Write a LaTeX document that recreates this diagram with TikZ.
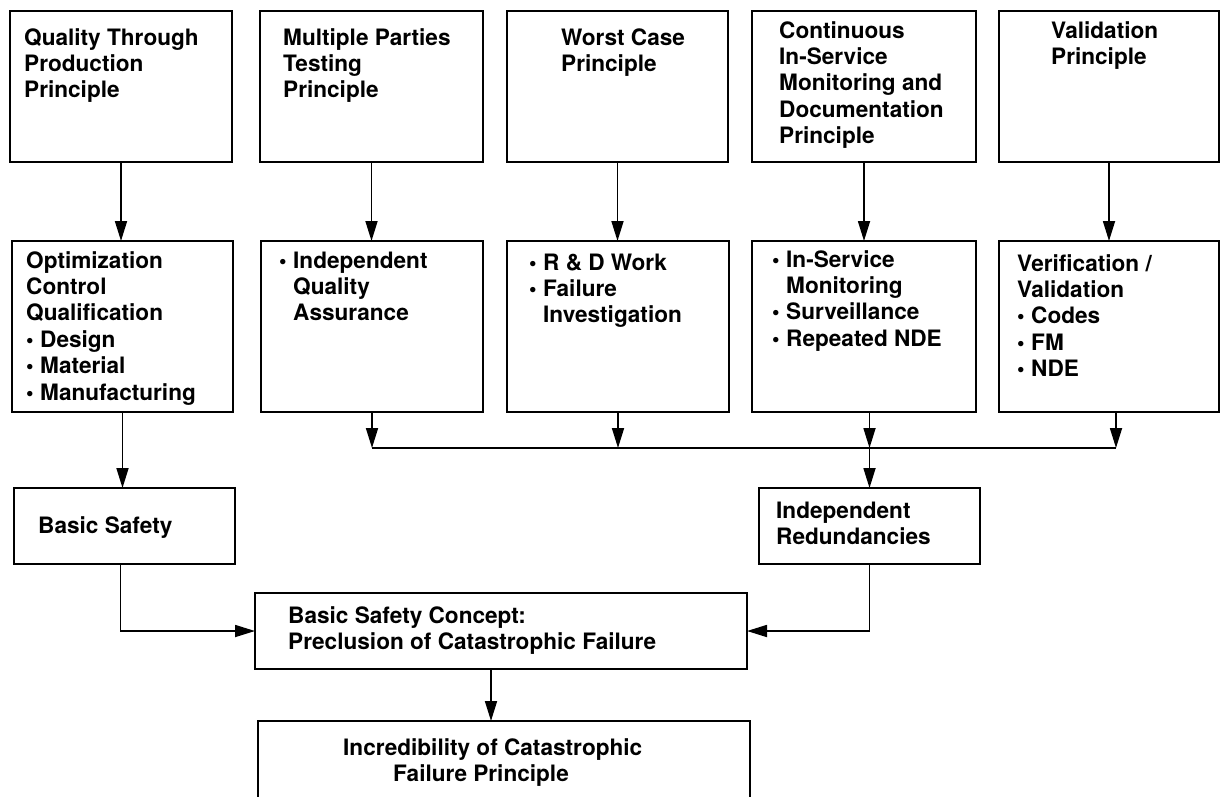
\documentclass[tikz,border=0pt]{standalone}
\usepackage{fontspec}
\setmainfont{TeX Gyre Heros}
\usetikzlibrary{arrows.meta,calc}
\newcommand\bul{\makebox[14pt][l]{\scalebox{0.95}{•}}}
\newcommand\ind{\hspace*{14pt}}
\begin{document}
\begin{tikzpicture}[x=1pt,y=-1pt,
  box/.style={draw, line width=1.7pt, inner sep=0pt, outer sep=0pt, anchor=north west},
  txt/.style={anchor=base west, inner sep=0pt, align=left, font=\fontsize{22.6}{26.4}\selectfont\bfseries},
  arr/.style={line width=1.7pt, -{Triangle[length=20pt,width=12pt]}},
  ln/.style={line width=1.7pt}]
\useasboundingbox[fill=white] (0,0) rectangle (1221,796);
% top row
\node[box, minimum width=222pt, minimum height=151pt] (b1) at (10,11) {};
\node[box, minimum width=223pt, minimum height=151pt] (b2) at (260,11) {};
\node[box, minimum width=221pt, minimum height=151pt] (b3) at (507,11) {};
\node[box, minimum width=224pt, minimum height=151pt] (b4) at (752,11) {};
\node[box, minimum width=220pt, minimum height=151pt] (b5) at (999,11) {};
% second row
\node[box, minimum width=221pt, minimum height=171pt] (m1) at (12,241) {};
\node[box, minimum width=222pt, minimum height=171pt] (m2) at (261,241) {};
\node[box, minimum width=222pt, minimum height=171pt] (m3) at (507,241) {};
\node[box, minimum width=224pt, minimum height=171pt] (m4) at (752,241) {};
\node[box, minimum width=220pt, minimum height=171pt] (m5) at (999,241) {};
% lower boxes
\node[box, minimum width=221pt, minimum height=76pt] (bs) at (14,488) {};
\node[box, minimum width=221pt, minimum height=76pt] (ir) at (759,488) {};
\node[box, minimum width=492pt, minimum height=76pt] (cc) at (255,593) {};
\node[box, minimum width=492pt, minimum height=90pt] (inc) at (258,721) {};
% texts (anchor = baseline of last line)
\node[txt] (t1) at (24,97.8) {Quality Through\\Production\\Principle};
\node[txt] (t2) at (283,97.8) {Multiple Parties\\Testing\\Principle};
\node[txt] (t3) at (561,71.4) {Worst Case\\Principle};
\node[txt] (t4) at (779,143.6) {Continuous\\In-Service\\Monitoring and\\Documentation\\Principle};
\node[txt] (t5) at (1051,64.4) {Validation\\Principle};
\node[txt] (u1) at (26,400) {Optimization\\Control\\Qualification\\\bul Design\\\bul Material\\\bul Manufacturing};
\node[txt] (u2) at (279,320.8) {\bul Independent\\\ind Quality\\\ind Assurance};
\node[txt] (u3) at (529,322.8) {\bul R \& D Work\\\bul Failure\\\ind Investigation};
\node[txt] (u4) at (772,346.2) {\bul In-Service\\\ind Monitoring\\\bul Surveillance\\\bul Repeated NDE};
\node[txt] (u5) at (1017,376.6) {Verification /\\Validation\\\bul Codes\\\bul FM\\\bul NDE};
\node[txt] (tbs) at (38,533) {Basic Safety};
\node[txt] (tir) at (776,544.4) {Independent\\Redundancies};
\node[txt] (tcc) at (288,649.4) {Basic Safety Concept:\\Preclusion of Catastrophic Failure};
\node[txt] (tinc) at (343,781.4) {Incredibility of Catastrophic\\\hspace*{50pt}Failure Principle};
% arrows top -> second row
\foreach \a/\b in {b1/m1,b2/m2,b3/m3,b4/m4,b5/m5}
  \draw[arr] (\a.south) -- (\a.south |- \b.north);
% second row -> basic safety
\draw[arr] (m1.south) -- (m1.south |- bs.north);
% bus
\coordinate (bus) at (0,448);
\draw[arr] (m2.south) -- (m2.south |- bus);
\draw[arr] (m3.south) -- (m3.south |- bus);
\draw[arr] (ir.north |- m4.south) -- (ir.north |- bus);
\draw[arr] ([xshift=7pt]m5.south) -- ([xshift=7pt]m5.south |- bus);
\draw[ln] (m2.south |- bus) -- ([xshift=7pt]m5.south |- bus);
\draw[arr] (ir.north |- bus) -- (ir.north);
% to concept
\draw[arr] ([xshift=-4pt]bs.south) |- (cc.west);
\draw[arr] (ir.south) |- (cc.east);
\draw[arr] ([xshift=-10pt]cc.south) -- ([xshift=-10pt]cc.south |- inc.north);
\end{tikzpicture}
\end{document}
